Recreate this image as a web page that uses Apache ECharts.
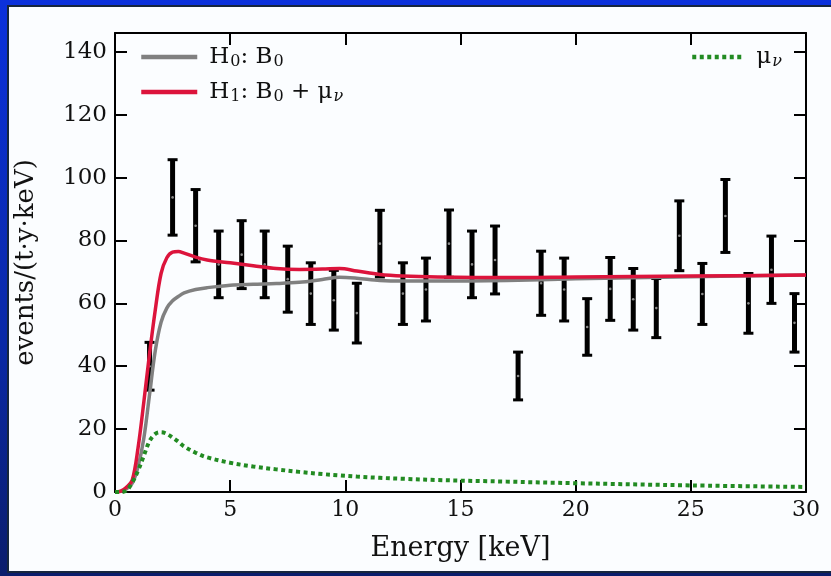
<!DOCTYPE html>
<html>
<head>
<meta charset="utf-8">
<script src="https://cdn.jsdelivr.net/npm/echarts@6/dist/echarts.min.js"></script>
<style>
  html, body { margin: 0; padding: 0; width: 831px; height: 576px; overflow: hidden;
    background: linear-gradient(to bottom, #0b31dc 0%, #0a29a6 60%, #0b1d6c 100%); }
  #panel { position: absolute; left: 7px; top: 5px; width: 824px; height: 568px; box-sizing: border-box;
    background: #fbfdff; border-top: 2px solid #16263e; border-left: 2px solid #16263e; border-bottom: 2px solid #16263e; }
  #chart { position: absolute; left: 0; top: 0; width: 831px; height: 576px; }
</style>
</head>
<body>
<div id="panel"></div>
<div id="chart"></div>
<script>
// model curves, sampled on one energy grid (keV)
const energyGrid = [0, 0.25, 0.5, 0.75, 1, 1.25, 1.5, 1.75, 2, 2.25, 2.5, 2.75, 3, 3.5, 4, 5, 6, 7, 8, 9, 9.75, 10.5, 11.5, 12.5, 14, 17, 20, 25, 30]
const bkgH0 = [0, 0.2, 1.0, 2.8, 8, 17, 31, 45, 54, 58.5, 60.8, 62.2, 63.3, 64.4, 65, 65.8, 66.1, 66.3, 66.7, 67.6, 68.3, 68, 67.3, 67.1, 67.1, 67.3, 67.8, 68.5, 69]
const bkgH1 = [0, 0.3, 1.5, 3.8, 14, 28.5, 44, 58, 69.5, 74.5, 76.3, 76.5, 76, 74.7, 73.8, 72.9, 72, 71.1, 70.8, 70.9, 71.1, 70.3, 69.2, 68.7, 68.4, 68.2, 68.4, 68.7, 69]
const signalMu = [0, 0, 0.5, 3, 6.8, 11.5, 16.2, 18.5, 19, 18.5, 17.3, 16, 14.5, 12.5, 11, 9.3, 8.1, 7.2, 6.4, 5.7, 5.3, 4.9, 4.5, 4.2, 3.8, 3.3, 2.8, 2.1, 1.6]

// measured spectrum, 1 keV bins
const binCenters = [1.5, 2.5, 3.5, 4.5, 5.5, 6.5, 7.5, 8.5, 9.5, 10.5, 11.5, 12.5, 13.5, 14.5, 15.5, 16.5, 17.5, 18.5, 19.5, 20.5, 21.5, 22.5, 23.5, 24.5, 25.5, 26.5, 27.5, 28.5, 29.5]
const counts = [40, 93.7, 84.7, 72.4, 75.5, 72.4, 67.7, 63.1, 61, 56.9, 79, 63.1, 64.4, 79, 72.4, 73.8, 36.9, 66.4, 64.4, 52.5, 64.6, 61.3, 58.5, 81.5, 63, 87.8, 60, 70.7, 53.8]
const countErrors = [7.6, 12, 11.5, 10.6, 10.8, 10.6, 10.5, 9.8, 9.5, 9.5, 10.6, 9.8, 10, 10.7, 10.6, 10.8, 7.6, 10.2, 10, 9, 10, 9.8, 9.4, 11.1, 9.7, 11.6, 9.5, 10.7, 9.3]

const serif = 'DejaVu Serif'
const ink = '#111'

const chart = echarts.init(document.getElementById('chart'))

const legendNames = {
  H0: '{n|H}{s|0}{n|: B}{s|0}',
  H1: '{n|H}{s|1}{n|: B}{s|0}{n| + μ}{si|ν}',
  mu: '{n|μ}{si|ν}',
}
const legendText = {
  color: ink,
  padding: [0, 0, 0, 7],
  rich: {
    n: { fontFamily: serif, fontSize: 23, color: ink, lineHeight: 28 },
    s: { fontFamily: serif, fontSize: 16, color: ink, lineHeight: 28, padding: [10, 0, 0, 1] },
    si: { fontFamily: serif, fontSize: 16, fontStyle: 'italic', color: ink, lineHeight: 28, padding: [10, 0, 0, 1] },
  },
}

const frameAxis = {
  axisLine: { show: true, onZero: false, lineStyle: { color: '#000', width: 2 } },
  axisTick: { show: true, inside: true, length: 12, lineStyle: { color: '#000', width: 2 } },
  splitLine: { show: false },
}

const option = {
  animation: false,
  backgroundColor: 'transparent',
  grid: { left: 115, right: 25, top: 33, bottom: 84 },
  legend: [
    {
      data: ['H0', 'H1'], orient: 'vertical', left: 134, top: 39,
      itemWidth: 56, itemHeight: 14, itemGap: 9,
      itemStyle: { opacity: 0 }, lineStyle: { width: 4.5 },
      formatter: (n) => legendNames[n], textStyle: legendText,
    },
    {
      data: ['mu'], left: 685, top: 39,
      itemWidth: 52, itemHeight: 14,
      itemStyle: { opacity: 0 }, lineStyle: { width: 4.5 },
      formatter: (n) => legendNames[n], textStyle: legendText,
    },
  ],
  xAxis: [
    {
      type: 'value', min: 0, max: 30, interval: 5, ...frameAxis,
      axisLabel: { margin: 7, color: ink, fontFamily: serif, fontSize: 22 },
      name: 'Energy [keV]', nameLocation: 'middle', nameGap: 43,
      nameTextStyle: { color: ink, fontFamily: serif, fontSize: 27 },
    },
    { type: 'value', position: 'top', min: 0, max: 30, interval: 5, ...frameAxis, axisLabel: { show: false } },
  ],
  yAxis: [
    {
      type: 'value', min: 0, max: 146, interval: 20, ...frameAxis,
      axisLabel: { margin: 8, color: ink, fontFamily: serif, fontSize: 23, showMaxLabel: false },
      name: 'events/(t·y·keV)', nameLocation: 'middle', nameGap: 76, nameRotate: 90,
      nameTextStyle: { color: ink, fontFamily: serif, fontSize: 26 },
    },
    { type: 'value', position: 'right', min: 0, max: 146, interval: 20, ...frameAxis, axisLabel: { show: false } },
  ],
  series: [
    {
      name: 'data', type: 'custom', z: 2,
      data: binCenters.map((e, i) => [e, counts[i], countErrors[i]]),
      encode: { x: 0, y: 1 },
      renderItem: (params, api) => {
        const e = api.value(0), c = api.value(1), err = api.value(2)
        const top = api.coord([e, c + err])
        const bot = api.coord([e, c - err])
        const mid = api.coord([e, c])
        const cap = 5
        const capStyle = { stroke: '#000', lineWidth: 3 }
        return {
          type: 'group',
          children: [
            { type: 'line', shape: { x1: top[0], y1: top[1], x2: bot[0], y2: bot[1] }, style: { stroke: '#000', lineWidth: 5 } },
            { type: 'line', shape: { x1: top[0] - cap, y1: top[1], x2: top[0] + cap, y2: top[1] }, style: capStyle },
            { type: 'line', shape: { x1: bot[0] - cap, y1: bot[1], x2: bot[0] + cap, y2: bot[1] }, style: capStyle },
            { type: 'circle', shape: { cx: mid[0], cy: mid[1], r: 1.3 }, style: { fill: '#8a8a8a' } },
          ],
        }
      },
    },
    {
      name: 'H0', type: 'line', z: 3, smooth: 0.35, symbol: 'none',
      data: energyGrid.map((e, i) => [e, bkgH0[i]]),
      lineStyle: { color: '#808080', width: 3.5 }, itemStyle: { color: '#808080' },
    },
    {
      name: 'H1', type: 'line', z: 4, smooth: 0.35, symbol: 'none',
      data: energyGrid.map((e, i) => [e, bkgH1[i]]),
      lineStyle: { color: '#dc143c', width: 3.5 }, itemStyle: { color: '#dc143c' },
    },
    {
      name: 'mu', type: 'line', z: 4, smooth: 0.35, symbol: 'none',
      data: energyGrid.map((e, i) => [e, signalMu[i]]),
      lineStyle: { color: '#228b22', width: 4, type: [4, 3.5], cap: 'butt' }, itemStyle: { color: '#228b22' },
    },
  ],
}

chart.setOption(option)
</script>
</body>
</html>
